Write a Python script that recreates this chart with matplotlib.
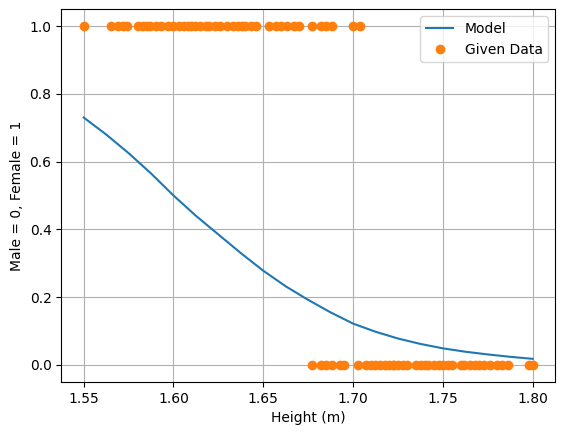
import matplotlib
matplotlib.use("Agg")
import matplotlib.pyplot as plt

model_x = [1.55, 1.5625, 1.575, 1.5875, 1.60, 1.6125, 1.625, 1.6375, 1.65, 1.6625, 1.675, 1.6875,
           1.70, 1.7125, 1.725, 1.7375, 1.75, 1.7625, 1.775, 1.7875, 1.80]
model_y = [0.73, 0.68, 0.625, 0.565, 0.50, 0.44, 0.385, 0.33, 0.278, 0.232, 0.192, 0.155,
           0.122, 0.098, 0.078, 0.062, 0.049, 0.039, 0.031, 0.024, 0.018]

female_h = [1.55, 1.565, 1.569, 1.572, 1.574, 1.58, 1.583, 1.585, 1.587, 1.59, 1.593, 1.597,
            1.60, 1.603, 1.606, 1.608, 1.61, 1.612, 1.615, 1.618, 1.62, 1.623, 1.626, 1.63,
            1.633, 1.636, 1.638, 1.64, 1.643, 1.646, 1.653, 1.657, 1.66, 1.663, 1.667, 1.67,
            1.677, 1.682, 1.685, 1.688, 1.70, 1.704]
male_h = [1.677, 1.682, 1.685, 1.688, 1.693, 1.695, 1.703, 1.707, 1.71, 1.712, 1.715, 1.718,
          1.72, 1.722, 1.723, 1.725, 1.728, 1.73, 1.735, 1.738, 1.74, 1.742, 1.745, 1.748,
          1.75, 1.753, 1.755, 1.76, 1.762, 1.765, 1.768, 1.77, 1.773, 1.776, 1.78, 1.783,
          1.786, 1.798, 1.80]

data_x = female_h + male_h
data_y = [1] * len(female_h) + [0] * len(male_h)

fig, ax = plt.subplots(figsize=(5.67, 4.32), dpi=100)
ax.plot(model_x, model_y, color="#1f77b4", label="Model")
ax.plot(data_x, data_y, "o", color="#ff7f0e", label="Given Data")
ax.set_xlabel("Height (m)")
ax.set_ylabel("Male = 0, Female = 1")
ax.grid(True)
ax.legend(loc="upper right")
fig.subplots_adjust(left=0.108, right=0.979, top=0.979, bottom=0.116)
fig.savefig("out.png")
